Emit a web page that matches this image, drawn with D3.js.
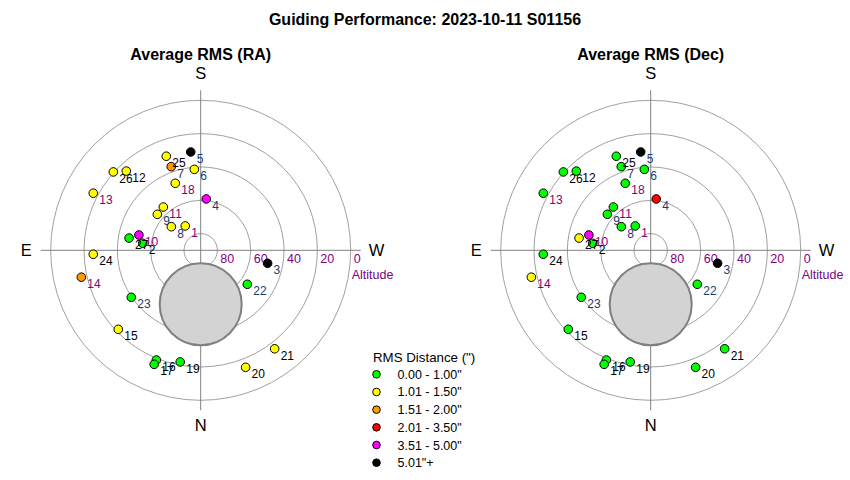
<!DOCTYPE html>
<html><head><meta charset="utf-8">
<script src="https://cdn.jsdelivr.net/npm/d3@7"></script>
<style>
body{margin:0;background:#fff;}
text{font-family:"Liberation Sans",Arial,sans-serif;}
</style></head>
<body><svg id="chart" width="850" height="480"></svg>
<script>
// ---- data ----
const pointIds   = [1,2,3,4,5,6,7,8,9,10,11,12,13,14,15,16,17,18,19,20,21,22,23,24,25,26,27];
const altitudes  = [72.7,55.0,49.1,59.0,30.7,41.3,36.8,67.4,56.2,51.8,55.7,24.8,17.0,16.6,21.5,19.0,16.1,47.0,21.9,14.8,16.1,55.4,39.7,25.5,29.9,19.6,46.4];
const azimuths   = [147.6,96.9,281.0,186.2,174.2,175.5,160.6,128.8,129.7,103.9,139.2,136.8,118.0,77.3,46.2,22.0,22.2,159.2,10.4,339.0,323.1,306.1,55.9,87.9,159.9,131.9,99.7];
// RMS class index (0..5) for RA and Dec panels
const raClass    = [1,0,5,4,5,1,2,1,1,4,1,1,1,2,1,0,0,1,0,1,1,0,0,1,1,1,0];
const decClass   = [0,0,5,3,5,0,0,0,0,4,0,0,0,1,0,0,0,0,0,0,0,0,0,0,0,0,1];
// label colour group (0 black, 1 dark blue, 2 purple)
const labelGroup = [2,0,1,1,1,1,1,1,1,2,2,0,2,2,0,0,0,2,0,0,0,1,1,0,0,0,0];
const legendLabels = ['0.00 - 1.00"','1.01 - 1.50"','1.51 - 2.00"','2.01 - 3.50"','3.51 - 5.00"','5.01"+'];
const legendColors = ['#00ff00','#ffff00','#ff9900','#ff0000','#ff00ff','#000000'];
const ringAlts = [80,60,40,20,0];
const panelTitles = ['Average RMS (RA)','Average RMS (Dec)'];
const moonAlt = 57.6, moonAz = 0, moonRadiusDeg = 24.6;
const title = 'Guiding Performance: 2023-10-11 S01156';

// ---- drawing ----
const svg = d3.select('#chart');
const labelColors = ['#000000','#1c3a6e','#800080'];
const rScale = d3.scaleLinear().domain([90,0]).range([0,150]);
const color = d3.scaleOrdinal().domain(d3.range(6)).range(legendColors);

svg.append('text').attr('x',425).attr('y',25).attr('text-anchor','middle')
  .attr('font-size',16).attr('font-weight','bold').text(title);

function polar(alt, az){
  const r = rScale(alt), a = az*Math.PI/180;
  return [-r*Math.sin(a), r*Math.cos(a)];
}

function panel(cx, cy, ttl, cls){
  const g = svg.append('g').attr('transform',`translate(${cx},${cy})`);
  svg.append('text').attr('x',cx).attr('y',60).attr('text-anchor','middle')
    .attr('font-size',16).attr('font-weight','bold').text(ttl);
  // rings
  g.selectAll('circle.ring').data(ringAlts).join('circle').attr('class','ring')
    .attr('r',d=>rScale(d)).attr('fill','none').attr('stroke','#a0a0a0').attr('stroke-width',1);
  // axes
  g.append('line').attr('x1',0).attr('x2',0).attr('y1',-160).attr('y2',160).attr('stroke','#808080');
  g.append('line').attr('x1',-160).attr('x2',160).attr('y1',0).attr('y2',0).attr('stroke','#808080');
  // moon / exclusion
  const mp = polar(moonAlt, moonAz);
  g.append('circle').attr('cx',mp[0]).attr('cy',mp[1]).attr('r',rScale(90-moonRadiusDeg))
    .attr('fill','#d3d3d3').attr('stroke','#808080').attr('stroke-width',2);
  // ring labels
  g.selectAll('text.rl').data(ringAlts).join('text').attr('class','rl')
    .attr('x',d=>rScale(d)+3).attr('y',13).attr('font-size',12.5).attr('fill','#800080').text(d=>d);
  g.append('text').attr('x',151).attr('y',29).attr('font-size',12.5).attr('fill','#800080').text('Altitude');
  // compass
  const dirs = [['S',0,-171,'middle'],['N',0,181,'middle'],['E',-169,6,'end'],['W',168,6,'start']];
  g.selectAll('text.dir').data(dirs).join('text').attr('class','dir')
    .attr('x',d=>d[1]).attr('y',d=>d[2]).attr('text-anchor',d=>d[3]).attr('font-size',16.5).text(d=>d[0]);
  // points
  const pts = pointIds.map((id,i)=>({id, p:polar(altitudes[i],azimuths[i]), c:cls[i], lg:labelGroup[i]}));
  g.selectAll('circle.pt').data(pts).join('circle').attr('class','pt')
    .attr('cx',d=>d.p[0]).attr('cy',d=>d.p[1]).attr('r',4.3)
    .attr('fill',d=>color(d.c)).attr('stroke','#000').attr('stroke-width',1);
  g.selectAll('text.pl').data(pts).join('text').attr('class','pl')
    .attr('x',d=>d.p[0]+6).attr('y',d=>d.p[1]+11).attr('font-size',12)
    .attr('fill',d=>labelColors[d.lg]).text(d=>d.id);
}
panel(200.7,250.3,panelTitles[0],raClass);
panel(650.7,250.3,panelTitles[1],decClass);

// legend
const lg = svg.append('g');
lg.append('text').attr('x',373).attr('y',362).attr('font-size',13.3).text('RMS Distance (")');
const ly = d3.scaleLinear().domain([0,5]).range([374.3,462.7]);
lg.selectAll('circle').data(legendLabels).join('circle')
  .attr('cx',376.5).attr('cy',(d,i)=>ly(i)).attr('r',3.8)
  .attr('fill',(d,i)=>legendColors[i]).attr('stroke','#000').attr('stroke-width',1);
lg.selectAll('text.li').data(legendLabels).join('text').attr('class','li')
  .attr('x',397.5).attr('y',(d,i)=>ly(i)+4.5).attr('font-size',12.5).text(d=>d);
</script></body></html>
